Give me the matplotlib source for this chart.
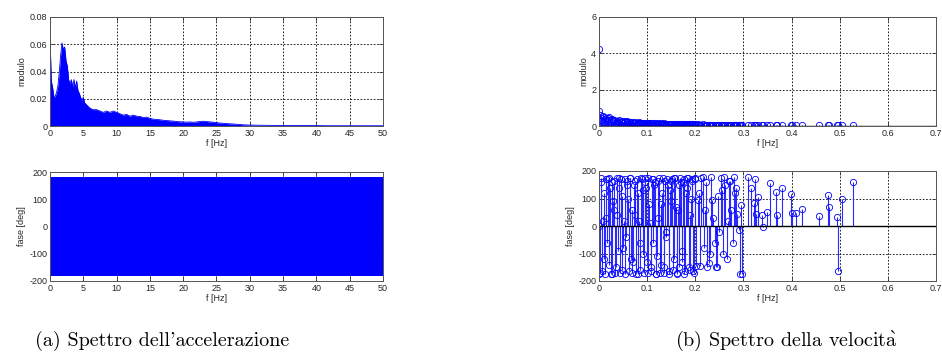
import numpy as np
import matplotlib
matplotlib.use("Agg")
import matplotlib.pyplot as plt

# --- (a) spettro dell'accelerazione: inviluppo del modulo ---
acc_f = [0.0, 0.2, 0.4, 0.6, 0.8, 1.0, 1.2, 1.4, 1.6, 1.8,
         2.0, 2.2, 2.4, 2.6, 2.8, 3.0, 3.2, 3.4, 3.6, 3.8,
         4.0, 4.2, 4.4, 4.6, 4.8, 5.0, 5.2, 5.4, 5.6, 5.8,
         6.0, 6.5, 7.0, 7.5, 8.0, 8.5, 9.0, 9.5, 10.0, 10.5,
         11.0, 11.5, 12.0, 12.5, 13.0, 13.5, 14.0, 14.5, 15.0, 15.5,
         16.0, 16.5, 17.0, 17.5, 18.0, 18.5, 19.0, 19.5, 20.0, 20.5,
         21.0, 21.5, 22.0, 22.5, 23.0, 23.5, 24.0, 24.5, 25.0, 25.5,
         26.0, 26.5, 27.0, 27.5, 28.0, 28.5, 29.0, 29.5, 30.0, 32.0,
         34.0, 36.0, 38.0, 40.0, 42.0, 44.0, 46.0, 48.0, 50.0]
acc_mod = [0.065, 0.033, 0.028, 0.021, 0.022, 0.025, 0.030, 0.040, 0.052, 0.061,
           0.056, 0.058, 0.048, 0.044, 0.034, 0.031, 0.034, 0.029, 0.034, 0.028,
           0.033, 0.026, 0.024, 0.021, 0.019, 0.021, 0.017, 0.016, 0.015, 0.014,
           0.013, 0.012, 0.012, 0.011, 0.010, 0.011, 0.010, 0.011, 0.010, 0.009,
           0.008, 0.0085, 0.0072, 0.008, 0.0072, 0.007, 0.0062, 0.0065, 0.0056, 0.005,
           0.0048, 0.0046, 0.0042, 0.004, 0.0038, 0.0036, 0.0033, 0.0031, 0.003, 0.0028,
           0.003, 0.0027, 0.003, 0.0033, 0.0035, 0.0033, 0.003, 0.0028, 0.0025, 0.0022,
           0.002, 0.0018, 0.0016, 0.0015, 0.0013, 0.0011, 0.0009, 0.0008, 0.0007, 0.0005,
           0.0004, 0.0003, 0.0003, 0.0003, 0.0002, 0.0002, 0.0002, 0.0002, 0.0002]
# fase: riempie tutta la banda tra -180 e 180 gradi
acc_phase_f = [0, 5, 10, 15, 20, 25, 30, 35, 40, 45, 50]
acc_phase_hi = [180, 180, 180, 180, 180, 180, 180, 180, 180, 180, 180]
acc_phase_lo = [-180, -180, -180, -180, -180, -180, -180, -180, -180, -180, -180]

# --- (b) spettro della velocita': stem ---
vel_f = [0.000, 0.001,
         0.002, 0.005, 0.008, 0.011, 0.014, 0.017, 0.020, 0.023, 0.026, 0.029,
         0.032, 0.035, 0.038, 0.041, 0.044, 0.047, 0.050, 0.053, 0.056, 0.059,
         0.062, 0.065, 0.068, 0.071, 0.074, 0.077, 0.080, 0.083, 0.086, 0.089,
         0.092, 0.095, 0.098, 0.101, 0.104, 0.107, 0.110, 0.113, 0.116, 0.119,
         0.122, 0.125, 0.128, 0.131, 0.134, 0.137, 0.140, 0.143, 0.146, 0.149,
         0.152, 0.155, 0.158, 0.161, 0.164, 0.167, 0.170, 0.173, 0.176, 0.179,
         0.182, 0.185, 0.188, 0.191, 0.194, 0.197, 0.200, 0.205, 0.210, 0.215,
         0.220, 0.225, 0.230, 0.235, 0.240, 0.245, 0.250, 0.255, 0.260, 0.265,
         0.270, 0.275, 0.280, 0.285, 0.290, 0.295, 0.298,
         0.309, 0.316, 0.321, 0.324, 0.326, 0.330, 0.338, 0.340, 0.349, 0.356,
         0.367, 0.370, 0.380, 0.399, 0.401, 0.410, 0.421, 0.458, 0.475, 0.477,
         0.494, 0.496, 0.505, 0.527]
vel_mod = [4.25, 0.82,
           0.60, 0.35, 0.55, 0.20, 0.45, 0.30, 0.50, 0.15, 0.40, 0.28,
           0.35, 0.10, 0.30, 0.22, 0.05, 0.28, 0.18, 0.30, 0.12, 0.25,
           0.22, 0.08, 0.20, 0.15, 0.22, 0.05, 0.18, 0.20, 0.10, 0.17,
           0.18, 0.06, 0.16, 0.12, 0.17, 0.04, 0.15, 0.16, 0.08, 0.14,
           0.15, 0.05, 0.14, 0.10, 0.14, 0.03, 0.13, 0.12, 0.07, 0.13,
           0.12, 0.04, 0.12, 0.09, 0.12, 0.03, 0.11, 0.10, 0.06, 0.11,
           0.10, 0.04, 0.10, 0.08, 0.10, 0.03, 0.10, 0.09, 0.05, 0.09,
           0.08, 0.04, 0.08, 0.07, 0.08, 0.03, 0.07, 0.07, 0.04, 0.07,
           0.06, 0.03, 0.06, 0.05, 0.06, 0.04, 0.05,
           0.06, 0.05, 0.06, 0.04, 0.05, 0.05, 0.04, 0.05, 0.04, 0.05,
           0.04, 0.05, 0.04, 0.04, 0.05, 0.04, 0.04, 0.03, 0.04, 0.03,
           0.04, 0.03, 0.03, 0.03]
vel_phase = [0, -175,
             -170, 160, 20, -120, 170, -60, 175, 140, -175, 90,
             165, -150, 40, 175, -170, 110, -80, 170, -40, 150,
             -165, 175, 60, -130, 165, -175, 120, 20, -160, 170,
             -100, 175, 140, -170, 80, -150, 170, -60, 160, -175,
             30, 175, -140, 120, -170, 165, -20, 150, -165, 90,
             170, -120, 175, -175, 60, -150, 160, -90, 170, -165,
             140, 175, -160, 100, 165, -170, 170, 95, -145, 178,
             60, -150, -100, 95, -60, -150, -20, 130, 178, -120,
             165, 60, 178, 140, -15, 75, -175,
             178, 138, 83, 172, 42, 104, 40, -4, 50, 157,
             122, 40, 138, 117, 46, 49, 61, 37, 114, 68,
             33, -164, 98, 161]
# righe intermedie della zona densa (0 - 0.3 Hz)
vel_f2 = [0.0035, 0.0065, 0.0095, 0.0125, 0.0155, 0.0185, 0.0215, 0.0245, 0.0275, 0.0305,
          0.0335, 0.0365, 0.0395, 0.0425, 0.0455, 0.0485, 0.0515, 0.0545, 0.0575, 0.0605,
          0.0635, 0.0665, 0.0695, 0.0725, 0.0755, 0.0785, 0.0815, 0.0845, 0.0875, 0.0905,
          0.0935, 0.0965, 0.0995, 0.1025, 0.1055, 0.1085, 0.1115, 0.1145, 0.1175, 0.1205,
          0.1235, 0.1265, 0.1295, 0.1325, 0.1355, 0.1385, 0.1415, 0.1445, 0.1475, 0.1505,
          0.1535, 0.1565, 0.1595, 0.1625, 0.1655, 0.1685, 0.1715, 0.1745, 0.1775, 0.1805,
          0.1835, 0.1865, 0.1895, 0.1925, 0.1955, 0.1985,
          0.2025, 0.2075, 0.2125, 0.2175, 0.2225, 0.2275, 0.2325, 0.2375, 0.2425, 0.2475,
          0.2525, 0.2575, 0.2625, 0.2675, 0.2725, 0.2775, 0.2825, 0.2875, 0.2925]
vel_mod2 = [0.45, 0.25, 0.50, 0.38, 0.12, 0.42, 0.33, 0.22, 0.35, 0.08,
            0.30, 0.26, 0.15, 0.32, 0.20, 0.27, 0.06, 0.24, 0.20, 0.15,
            0.21, 0.18, 0.03, 0.19, 0.17, 0.12, 0.18, 0.14, 0.16, 0.05,
            0.15, 0.13, 0.10, 0.16, 0.12, 0.14, 0.04, 0.13, 0.12, 0.09,
            0.13, 0.11, 0.12, 0.03, 0.12, 0.10, 0.08, 0.12, 0.10, 0.11,
            0.03, 0.11, 0.09, 0.07, 0.10, 0.09, 0.10, 0.02, 0.09, 0.08,
            0.06, 0.09, 0.08, 0.09, 0.02, 0.08,
            0.07, 0.05, 0.07, 0.02, 0.07, 0.06, 0.05, 0.06, 0.02, 0.06,
            0.05, 0.04, 0.05, 0.02, 0.05, 0.04, 0.05, 0.03, 0.05]
vel_phase2 = [175, -165, 120, -175, 30, 170, -140, -175, 160, 60,
              -170, 175, -90, 140, 170, -160, 20, -175, 165, 100,
              175, -120, -170, 150, 40, 170, -175, -60, 175, 130,
              -170, 160, -130, 175, 10, -165, 170, 150, -175, -110,
              165, -170, 80, 175, -150, -40, 170, -175, 130, 165,
              -160, 175, 70, -170, 150, 175, -130, 160, -175, 120,
              175, -150, 40, 170, -165, 175,
              -145, 120, 175, -80, 160, -135, 178, 30, -150, 110,
              175, -100, 150, 20, 165, -60, 120, 45, -175]

BLUE = "#0000ff"
TXT = "#262626"
FS = 6.5

plt.rcParams["mathtext.fontset"] = "cm"


def matlab_axes(ax, xlim, ylim, xticks, yticks, xlabels, ylabels, ylab):
    ax.set_xlim(xlim)
    ax.set_ylim(ylim)
    ax.set_xticks(xticks)
    ax.set_xticklabels(xlabels)
    ax.set_yticks(yticks)
    ax.set_yticklabels(ylabels)
    ax.tick_params(direction="in", top=True, right=True, length=3, width=0.6,
                   labelsize=FS, labelcolor=TXT, pad=2, color="#333333")
    ax.grid(True, color="black", linestyle=(0, (2, 2)), linewidth=0.6)
    for s in ax.spines.values():
        s.set_linewidth(0.7)
        s.set_color("#555555")
    ax.set_xlabel("f [Hz]", fontsize=FS, color=TXT, labelpad=1)
    ax.set_ylabel(ylab, fontsize=FS, color=TXT, labelpad=2)
    ax.set_axisbelow(True)


def stem_plot(ax, f, v):
    ml, sl, bl = ax.stem(f, v)
    plt.setp(sl, color="#2a2aff", linewidth=0.8)
    plt.setp(ml, marker="o", markersize=4.5, markerfacecolor="none",
             markeredgecolor=BLUE, markeredgewidth=0.6)
    bl.set_visible(False)


fig = plt.figure(figsize=(9.42, 3.6), dpi=100)
plt.rcParams["font.family"] = ["Liberation Sans", "DejaVu Sans"]

# (a) modulo
ax1 = fig.add_axes([50 / 942, 1 - 126 / 360, 333 / 942, 109 / 360])
ax1.fill_between(acc_f, 0, acc_mod, color=BLUE, lw=0)
ax1.plot(acc_f, acc_mod, color=BLUE, lw=0.6)
matlab_axes(ax1, (0, 50), (0, 0.08), range(0, 51, 5), [0, 0.02, 0.04, 0.06, 0.08],
            [str(v) for v in range(0, 51, 5)], ["0", "0.02", "0.04", "0.06", "0.08"],
            "modulo")

# (a) fase
ax2 = fig.add_axes([50 / 942, 1 - 281 / 360, 333 / 942, 109 / 360])
ax2.fill_between(acc_phase_f, acc_phase_lo, acc_phase_hi, color=BLUE, lw=0)
matlab_axes(ax2, (0, 50), (-200, 200), range(0, 51, 5), [-200, -100, 0, 100, 200],
            [str(v) for v in range(0, 51, 5)], ["-200", "-100", "0", "100", "200"],
            "fase [deg]")

# (b) modulo
xt = [0, 0.1, 0.2, 0.3, 0.4, 0.5, 0.6, 0.7]
xl = ["0", "0.1", "0.2", "0.3", "0.4", "0.5", "0.6", "0.7"]
ax3 = fig.add_axes([599 / 942, 1 - 126 / 360, 337 / 942, 109 / 360])
stem_plot(ax3, vel_f2, vel_mod2)
stem_plot(ax3, vel_f, vel_mod)
ax3.axhline(0, color="black", lw=1.0)
matlab_axes(ax3, (0, 0.7), (0, 6), xt, [0, 2, 4, 6], xl, ["0", "2", "4", "6"], "modulo")

# (b) fase
ax4 = fig.add_axes([599 / 942, 1 - 281 / 360, 337 / 942, 110 / 360])
stem_plot(ax4, vel_f2, vel_phase2)
stem_plot(ax4, vel_f, vel_phase)
ax4.axhline(0, color="black", lw=1.0)
matlab_axes(ax4, (0, 0.7), (-200, 200), xt, [-200, -100, 0, 100, 200], xl,
            ["-200", "-100", "0", "100", "200"], "fase [deg]")

# didascalie
cap = ["cmr10", "DejaVu Serif"]
fig.text(162 / 942, 1 - 341 / 360, "(a) Spettro dell'accelerazione", fontsize=14.5,
         family=cap, ha="center", va="center")
fig.text(786 / 942, 1 - 341 / 360, r"(b) Spettro della velocit$\mathrm{\grave{a}}$",
         fontsize=14.5, family=cap, ha="center", va="center")

fig.savefig("out.png", dpi=100)
